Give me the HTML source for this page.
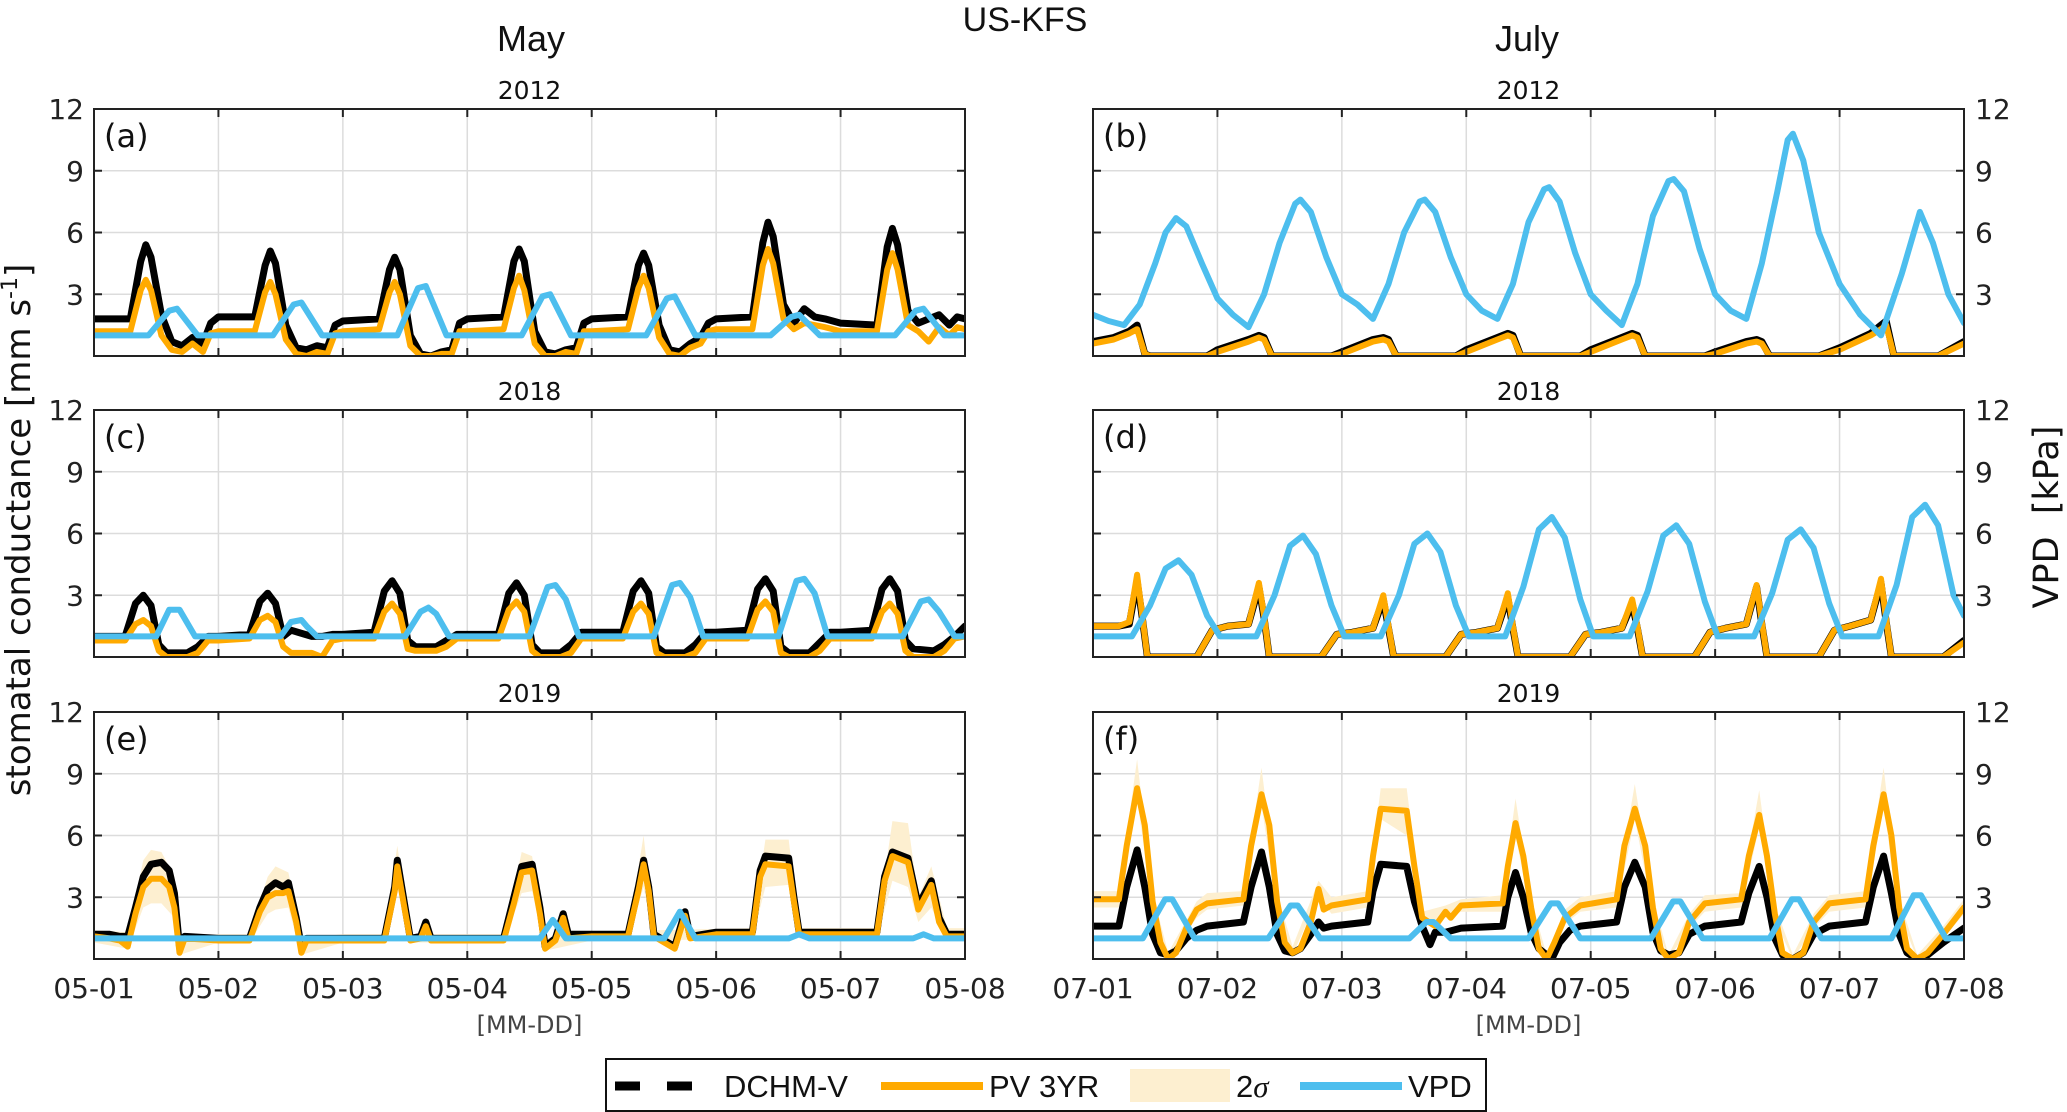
<!DOCTYPE html>
<html><head><meta charset="utf-8">
<style>
html,body{margin:0;padding:0;background:#fff;}
svg{display:block;font-family:"DejaVu Sans","Liberation Sans",sans-serif;}
</style></head>
<body>
<svg id="fig" width="2067" height="1112" viewBox="0 0 2067 1112" xmlns="http://www.w3.org/2000/svg">
<text x="1025" y="31" font-size="34" font-family="Liberation Sans, sans-serif" text-anchor="middle" fill="#111">US-KFS</text>
<text x="531" y="51" font-size="36" font-family="Liberation Sans, sans-serif" text-anchor="middle" fill="#111">May</text>
<text x="1527" y="51" font-size="36" font-family="Liberation Sans, sans-serif" text-anchor="middle" fill="#111">July</text>
<text transform="translate(30,530) rotate(-90)" font-size="34" text-anchor="middle" fill="#111">stomatal conductance [mm s<tspan font-size="22" dy="-13">-1</tspan><tspan dy="13">]</tspan></text>
<text transform="translate(2058,517) rotate(-90)" font-size="35" text-anchor="middle" fill="#111" xml:space="preserve">VPD  [kPa]</text>
<g id="panels"></g>
<g>
<rect x="606" y="1059" width="880" height="52" fill="#fff" stroke="#111" stroke-width="2"/>
<line x1="615" y1="1086" x2="692" y2="1086" stroke="#000" stroke-width="9" stroke-dasharray="25,27"/>
<text x="724" y="1097" font-size="31" font-family="Liberation Sans, sans-serif" fill="#111">DCHM-V</text>
<line x1="881" y1="1086" x2="983" y2="1086" stroke="#FFAA00" stroke-width="8"/>
<text x="989" y="1097" font-size="31" font-family="Liberation Sans, sans-serif" fill="#111">PV 3YR</text>
<rect x="1130" y="1069" width="100" height="33" fill="#FDEFD0"/>
<text x="1236" y="1097" font-size="31" font-family="Liberation Sans, sans-serif" fill="#111">2<tspan font-family="Liberation Serif,serif" font-style="italic">σ</tspan></text>
<line x1="1300" y1="1086" x2="1402" y2="1086" stroke="#4DBEEE" stroke-width="8"/>
<text x="1408" y="1097" font-size="31" font-family="Liberation Sans, sans-serif" fill="#111">VPD</text>
</g>
</svg>
<script>
// ---- data (time in hours since start of week, values in mm s-1 / kPa) ----
const yTicks = [3, 6, 9, 12];
const mayLabels = ["05-01","05-02","05-03","05-04","05-05","05-06","05-07","05-08"];
const julLabels = ["07-01","07-02","07-03","07-04","07-05","07-06","07-07","07-08"];

const a_dchm = [[0,1.8],[7,1.8],[9,4.6],[10,5.4],[11,4.8],[13,2.0],[15,0.7],[17,0.5],[19,0.9],[21,0.6],[22.5,1.6],
[24,1.9],[31,1.9],[33,4.4],[34,5.1],[35,4.5],[37,1.5],[39,0.4],[41,0.3],[43,0.5],[45,0.4],[46.5,1.5],
[48,1.7],[55,1.8],[57,4.2],[58,4.8],[59,4.2],[61,1.0],[63,0.1],[65,0.0],[67,0.2],[69,0.3],[70.5,1.6],
[72,1.8],[79,1.9],[81,4.6],[82,5.2],[83,4.6],[85,1.2],[87,0.2],[89,0.1],[91,0.3],[93,0.4],[94.5,1.6],
[96,1.8],[103,1.9],[105,4.4],[106,5.0],[107,4.4],[109,1.5],[111,0.3],[113,0.2],[115,0.6],[117,0.9],[118.5,1.6],
[120,1.8],[127,1.9],[129,5.5],[130,6.5],[131,5.8],[133,2.5],[135,1.6],[137,2.3],[139,1.9],[141,1.8],[142.5,1.7],
[144,1.6],[151,1.5],[153,5.3],[154,6.2],[155,5.4],[157,2.2],[159,1.6],[161,1.8],[163,2.0],[165,1.5],[166.5,1.9],[168,1.8]];
const a_pv = [[0,1.2],[7,1.2],[9,3.2],[10,3.7],[11,3.2],[13,1.0],[15,0.3],[17,0.2],[19,0.6],[21,0.2],[22.5,1.1],
[24,1.2],[31,1.2],[33,3.1],[34,3.6],[35,3.0],[37,0.8],[39,0.1],[41,0.0],[43,0.2],[45,0.1],[46.5,1.1],
[48,1.2],[55,1.3],[57,3.1],[58,3.6],[59,3.0],[61,0.5],[63,0.0],[65,0.0],[67,0.1],[69,0.1],[70.5,1.2],
[72,1.2],[79,1.3],[81,3.3],[82,3.9],[83,3.2],[85,0.6],[87,0.0],[89,0.0],[91,0.2],[93,0.1],[94.5,1.2],
[96,1.2],[103,1.3],[105,3.3],[106,3.9],[107,3.3],[109,0.9],[111,0.1],[113,0.0],[115,0.4],[117,0.6],[118.5,1.2],
[120,1.3],[127,1.3],[129,4.4],[130,5.2],[131,4.5],[133,1.8],[135,1.3],[137,1.6],[139,1.5],[141,1.4],[142.5,1.3],
[144,1.2],[151,1.2],[153,4.2],[154,5.0],[155,4.2],[157,1.5],[159,1.2],[161,0.7],[163,1.4],[165,1.0],[166.5,1.4],[168,1.3]];
const a_vpd = [[0,1.0],[10.5,1.0],[14.5,2.2],[16,2.3],[20,1.0],
[34.5,1.0],[38.5,2.5],[40,2.6],[44,1.0],[58.5,1.0],[62.5,3.3],[64,3.4],[68,1.0],
[82.5,1.0],[86.5,2.9],[88,3.0],[92,1.0],[106.5,1.0],[110.5,2.8],[112,2.9],[116,1.0],
[130.5,1.0],[134.5,1.9],[136,2.0],[140,1.0],[154.5,1.0],[158.5,2.2],[160,2.3],[164,1.0],[168,1.0]];

const b_dchm = [[0,0.7],[4,0.9],[7,1.2],[8.5,1.5],[10,0.1],[11,0],[22,0],
[24,0.3],[30,0.8],[32,1.0],[33,0.9],[34.5,0.0],[46,0],[48,0.2],[54,0.8],[56,0.9],[57,0.8],[58.5,0],[70,0],
[72,0.3],[78,0.9],[80,1.1],[81,1.0],[82.5,0],[94,0],[96,0.3],[102,0.9],[104,1.1],[105,1.0],[106.5,0],[118,0],
[120,0.2],[126,0.7],[128,0.8],[129,0.7],[130.5,0],[140,0],[144,0.4],[150,1.1],[152,1.5],[153,1.7],[154.5,0],[163,0],[168,0.7]];
const b_pv = [[0,0.6],[4,0.8],[7,1.1],[8.5,1.3],[10,0.1],[11,0],[22,0],
[24,0.2],[30,0.7],[32,0.9],[33,0.8],[34.5,0.0],[46,0],[48,0.1],[54,0.7],[56,0.8],[57,0.7],[58.5,0],[70,0],
[72,0.2],[78,0.8],[80,1.0],[81,0.9],[82.5,0],[94,0],[96,0.2],[102,0.8],[104,1.0],[105,0.9],[106.5,0],[118,0],
[120,0.1],[126,0.6],[128,0.7],[129,0.6],[130.5,0],[140,0],[144,0.3],[150,1.0],[152,1.3],[153,1.5],[154.5,0],[163,0],[168,0.6]];
const b_vpd = [[0,2.0],[3,1.7],[6,1.5],[9,2.5],[12,4.5],[14,6.0],[16,6.7],[18,6.3],[21,4.5],[24,2.8],[27,2.0],[30,1.4],
[33,3.0],[36,5.5],[39,7.4],[40,7.6],[42,7.0],[45,4.8],[48,3.0],[51,2.5],[54,1.8],
[57,3.5],[60,6.0],[63,7.5],[64,7.6],[66,7.0],[69,4.8],[72,3.0],[75,2.2],[78,1.8],
[81,3.5],[84,6.5],[87,8.1],[88,8.2],[90,7.5],[93,5.0],[96,3.0],[99,2.2],[102,1.5],
[105,3.5],[108,6.8],[111,8.5],[112,8.6],[114,8.0],[117,5.2],[120,3.0],[123,2.2],[126,1.8],
[129,4.5],[132,8.0],[134,10.5],[135,10.8],[137,9.5],[140,6.0],[144,3.5],[148,2.0],[152,1.0],
[156,4.0],[159.5,7.0],[162,5.5],[165,3.0],[168,1.6]];

const c_dchm = [[0,1.0],[6,1.0],[8,2.6],[9.5,3.0],[11,2.5],[12.5,0.6],[14,0.2],[18,0.2],[20,0.5],[22,1.0],
[24,1.0],[30,1.1],[32,2.7],[33.5,3.1],[35,2.6],[36.5,1.0],[38,1.3],[42,1.0],[44,1.0],[46,1.1],
[48,1.1],[54,1.2],[56,3.2],[57.5,3.7],[59,3.1],[60.5,0.8],[62,0.5],[66,0.5],[68,0.8],[70,1.1],
[72,1.1],[78,1.1],[80,3.1],[81.5,3.6],[83,3.0],[84.5,0.6],[86,0.2],[90,0.2],[92,0.6],[94,1.2],
[96,1.2],[102,1.2],[104,3.2],[105.5,3.7],[107,3.1],[108.5,0.5],[110,0.2],[114,0.2],[116,0.6],[118,1.2],
[120,1.2],[126,1.3],[128,3.3],[129.5,3.8],[131,3.2],[132.5,0.5],[134,0.2],[138,0.2],[140,0.7],[142,1.2],
[144,1.2],[150,1.3],[152,3.3],[153.5,3.8],[155,3.2],[156.5,0.8],[158,0.4],[162,0.3],[164,0.6],[166,1.0],[168,1.5]];
const c_pv = [[0,0.8],[6,0.8],[8,1.6],[9.5,1.8],[11,1.5],[12.5,0.3],[14,0.0],[18,0.0],[20,0.2],[22,0.8],
[24,0.8],[30,0.9],[32,1.8],[33.5,2.0],[35,1.7],[36.5,0.5],[38,0.2],[42,0.2],[44,0.0],[46,0.8],
[48,0.9],[54,0.9],[56,2.2],[57.5,2.6],[59,2.1],[60.5,0.4],[62,0.3],[66,0.3],[68,0.5],[70,0.9],
[72,0.9],[78,0.9],[80,2.3],[81.5,2.7],[83,2.2],[84.5,0.3],[86,0.0],[90,0.0],[92,0.2],[94,0.9],
[96,0.9],[102,0.9],[104,2.2],[105.5,2.6],[107,2.1],[108.5,0.2],[110,0.0],[114,0.0],[116,0.2],[118,0.9],
[120,0.9],[126,0.9],[128,2.3],[129.5,2.7],[131,2.2],[132.5,0.2],[134,0.0],[138,0.0],[140,0.3],[142,0.9],
[144,0.9],[150,0.9],[152,2.2],[153.5,2.6],[155,2.1],[156.5,0.3],[158,0.0],[162,0.0],[164,0.3],[166,0.9],[168,1.0]];
const c_vpd = [[0,1],[12,1],[14.5,2.3],[16.5,2.3],[19.5,1.0],
[36,1],[38,1.7],[40,1.8],[41,1.5],[43,1.0],[60,1],[63,2.2],[64.5,2.4],[66,2.1],[68.5,1.0],
[84,1],[87.5,3.4],[89,3.5],[91,2.8],[93.5,1.0],[108,1],[111.5,3.5],[113,3.6],[115,2.9],[117.5,1.0],
[132,1],[135.5,3.7],[137,3.8],[139,3.1],[141.5,1.0],[156,1],[159.5,2.7],[161,2.8],[163,2.2],[166,1.0],[168,1.0]];

const d_pv = [[0,1.5],[5,1.5],[7,1.7],[8.5,4.0],[9.5,2.0],[10.5,0.0],[20,0.0],[23,1.3],
[26,1.5],[30,1.6],[32,3.6],[33,2.0],[34,0.0],[44,0.0],[47,1.1],
[50,1.2],[54,1.4],[56,3.0],[57,1.5],[58,0.0],[68,0.0],[71,1.1],
[74,1.2],[78,1.4],[80,3.1],[81,1.5],[82,0.0],[92,0.0],[95,1.1],
[98,1.2],[102,1.4],[104,2.8],[105,1.5],[106,0.0],[116,0.0],[119,1.2],
[122,1.4],[126,1.6],[128,3.5],[129,1.7],[130,0.0],[140,0.0],[143,1.3],
[146,1.5],[150,1.8],[152,3.8],[153,1.8],[154,0.0],[164,0.0],[168,0.7]];
const d_dchm = [[0,1.5],[5,1.5],[7,1.6],[8.5,3.7],[9.5,1.9],[10.5,0.0],[20,0.0],[23,1.3],
[26,1.5],[30,1.6],[32,3.4],[33,1.9],[34,0.0],[44,0.0],[47,1.1],
[50,1.2],[54,1.4],[56,2.8],[57,1.4],[58,0.0],[68,0.0],[71,1.1],
[74,1.2],[78,1.4],[80,2.9],[81,1.4],[82,0.0],[92,0.0],[95,1.1],
[98,1.2],[102,1.4],[104,2.6],[105,1.4],[106,0.0],[116,0.0],[119,1.2],
[122,1.4],[126,1.6],[128,3.4],[129,1.6],[130,0.0],[140,0.0],[143,1.3],
[146,1.5],[150,1.8],[152,3.6],[153,1.7],[154,0.0],[164,0.0],[168,0.8]];
const d_vpd = [[0,1],[7.5,1],[11,2.5],[14,4.3],[16.5,4.7],[19,4.0],[22,2.0],[24.5,1.0],
[31.5,1],[35,3.0],[38,5.4],[40.5,5.9],[43,5.0],[46,2.5],[48.5,1.0],
[55.5,1],[59,3.0],[62,5.5],[64.5,6.0],[67,5.1],[70,2.5],[72.5,1.0],
[79.5,1],[83,3.4],[86,6.2],[88.5,6.8],[91,5.8],[94,2.8],[96.5,1.0],
[103.5,1],[107,3.2],[110,5.9],[112.5,6.4],[115,5.5],[118,2.7],[120.5,1.0],
[127.5,1],[131,3.1],[134,5.7],[136.5,6.2],[139,5.3],[142,2.6],[144.5,1.0],
[151.5,1],[155,3.5],[158,6.8],[160.5,7.4],[163,6.4],[166,3.0],[168,2.0]];

const e_dchm = [[0,1.2],[3,1.2],[5,1.1],[6.5,1.1],[8,2.5],[9.5,4.0],[11,4.6],[13,4.7],[14.5,4.3],[15.5,3.2],[16.5,0.6],[17.5,1.1],[24,1.0],[30,1.0],
[32,2.5],[33.5,3.4],[35,3.7],[36.5,3.5],[37.5,3.7],[39,2.0],[40,0.6],[41,1.0],[48,1.0],[56,1.0],
[58,3.5],[58.5,4.8],[60,2.5],[61,1.0],[63,1.1],[64,1.8],[65,1.0],[72,1.0],[79,1.0],
[81,3.0],[82.5,4.5],[84.5,4.6],[86,2.5],[87,0.6],[89,1.0],[90.5,2.2],[91.5,1.2],[96,1.2],[103,1.2],
[105,3.5],[106,4.8],[107,3.5],[108,1.2],[112,0.6],[114,2.3],[115,1.1],[120,1.3],[127,1.3],
[128.5,4.3],[129.5,5.0],[134,4.9],[135,3.0],[136,1.3],[144,1.3],[151,1.3],
[152.5,4.0],[154,5.2],[157,4.9],[159,2.6],[161.5,3.8],[163,2.0],[164.5,1.2],[168,1.2]];
const e_pv = [[0,1.1],[3,1.0],[5,0.9],[6.5,0.6],[8,2.2],[9.5,3.5],[11,3.9],[13,3.9],[14.5,3.5],[15.5,2.5],[16.5,0.3],[17.5,1.0],[24,0.9],[30,0.9],
[32,2.3],[33.5,3.0],[35,3.2],[36.5,3.2],[37.5,3.3],[39,1.8],[40,0.3],[41,0.9],[48,0.9],[56,0.9],
[58,3.3],[58.5,4.5],[60,2.3],[61,0.9],[63,1.0],[64,1.6],[65,0.9],[72,0.9],[79,0.9],
[81,2.7],[82.5,4.2],[84.5,4.3],[86,2.2],[87,0.5],[89,0.9],[90.5,2.0],[91.5,1.0],[96,1.1],[103,1.1],
[105,3.3],[106,4.6],[107,3.3],[108,1.1],[112,0.5],[114,2.1],[115,1.0],[120,1.2],[127,1.2],
[128.5,4.0],[129.5,4.6],[134,4.5],[135,2.8],[136,1.2],[144,1.2],[151,1.2],
[152.5,3.8],[154,5.0],[157,4.7],[159,2.4],[161.5,3.6],[163,1.8],[164.5,1.1],[168,1.1]];
const e_band = [[0,0.8,1.4],[6.5,0.5,1.3],[9.5,2.5,4.8],[11,2.7,5.3],[13,2.7,5.2],[15.5,2.0,4.0],[16.5,0.2,1.0],[24,0.8,1.2],[30,0.8,1.2],
[33.5,2.2,4.0],[35,2.4,4.5],[37.5,2.5,4.2],[40,0.2,1.0],[48,0.8,1.2],[56,0.8,1.2],[58.5,3.5,5.5],[61,0.8,1.2],[79,0.8,1.2],
[82.5,3.2,5.2],[84.5,3.3,5.0],[87,0.4,1.0],[96,0.9,1.3],[103,0.9,1.3],[106,3.5,6.0],[108,0.9,1.4],[127,1.0,1.5],
[129.5,3.5,5.8],[134,3.6,5.8],[136,1.0,1.5],[151,1.0,1.5],[154,3.8,6.7],[157,3.5,6.6],[159,1.8,3.0],[161.5,2.5,4.5],[164.5,0.9,1.5],[168,0.9,1.5]];
const e_vpd = [[0,1.0],[86,1.0],[88.5,1.9],[91,1.0],[110,1.0],[113,2.3],[116,1.0],[134,1.0],[136,1.2],[138,1.0],[158,1.0],[160,1.2],[162,1.0],[168,1.0]];

const f_pv = [[0,2.9],[5,2.9],[6.5,5.5],[8.5,8.3],[10,6.5],[11.5,2.8],[13,0.8],[14.5,0.0],[16,0.3],[18,1.5],[20,2.4],[22,2.7],
[29,2.9],[30.5,5.5],[32.5,8.0],[34,6.5],[35.5,2.8],[37,0.8],[38.5,0.3],[40,0.5],[42,1.8],[43.5,3.4],[44.5,2.4],[46,2.6],
[53,2.9],[54,5.0],[55.5,7.3],[60.5,7.2],[62,4.5],[63.5,2.0],[66,1.6],[68,2.3],[69,2.0],[71,2.6],
[79,2.7],[80,4.5],[81.5,6.6],[83,5.0],[84.5,2.5],[86,0.5],[87.5,0.0],[89,0.8],[91,2.0],[94,2.6],
[101,2.9],[102.5,5.5],[104.5,7.3],[106.5,5.5],[108,2.5],[109.5,0.5],[111,0.0],[113,0.3],[115,1.8],[118,2.7],
[125,2.9],[126.5,5.0],[128.5,7.0],[130,5.0],[131.5,2.2],[133,0.3],[135,0.0],[137,0.3],[139,1.8],[142,2.7],
[149,2.9],[150.5,5.5],[152.5,8.0],[154,6.0],[155.5,2.5],[157,0.5],[159,0.0],[161,0.3],[164,1.2],[168,2.5]];
const f_dchm = [[0,1.6],[5,1.6],[6.5,3.5],[8.5,5.3],[10,3.5],[11.5,1.2],[13,0.3],[14.5,0.2],[16,0.4],[18,1.0],[20,1.4],[22,1.6],
[29,1.8],[30.5,3.5],[32.5,5.2],[34,3.5],[35.5,1.2],[37,0.4],[38.5,0.3],[40,0.5],[42,1.2],[43.5,1.8],[44.5,1.5],[46,1.6],
[53,1.8],[54,3.3],[55.5,4.6],[60.5,4.5],[62,2.8],[63.5,1.6],[65,0.7],[66,1.3],[68,1.3],[71,1.5],
[79,1.6],[80,3.0],[81.5,4.2],[83,3.0],[84.5,1.3],[86,0.5],[88.5,0.0],[90,0.8],[92,1.4],[94,1.6],
[101,1.8],[102.5,3.5],[104.5,4.7],[106.5,3.5],[108,1.3],[109.5,0.4],[111,0.2],[113,0.3],[115,1.2],[118,1.6],
[125,1.8],[126.5,3.2],[128.5,4.5],[130,3.0],[131.5,1.0],[133,0.2],[135,0.0],[137,0.3],[139,1.2],[142,1.6],
[149,1.8],[150.5,3.5],[152.5,5.0],[154,3.2],[155.5,1.2],[157,0.3],[159,0.0],[161,0.2],[164,0.8],[168,1.5]];
const f_band = [[0,2.5,3.3],[5,2.5,3.3],[8.5,7.8,9.7],[11.5,2.4,3.2],[14.5,0,0.3],[20,2.0,2.8],[22,2.4,3.2],
[29,2.6,3.3],[32.5,7.5,9.3],[35.5,2.4,3.2],[38.5,0.2,0.6],[43.5,3.0,3.8],[46,2.2,3.0],
[53,2.5,3.3],[55.5,6.8,8.3],[60.5,6.0,8.3],[63.5,1.7,2.3],[68,2.0,2.6],[71,2.3,2.9],
[79,2.3,3.1],[81.5,6.0,7.8],[84.5,2.2,2.9],[87.5,0,0.2],[91,1.7,2.4],[94,2.3,3.0],
[101,2.5,3.3],[104.5,6.8,8.5],[108,2.2,2.9],[111,0,0.2],[115,1.5,2.2],[118,2.3,3.1],
[125,2.5,3.2],[128.5,6.4,8.2],[131.5,1.9,2.6],[135,0,0.2],[139,1.5,2.2],[142,2.3,3.1],
[149,2.5,3.3],[152.5,7.4,9.3],[155.5,2.2,2.9],[159,0,0.2],[164,1.0,1.6],[168,2.2,2.9]];
const f_vpd = [[0,1],[9.6,1],[13.9,2.9],[15.3,2.9],[19.6,1],[33.8,1],[38.1,2.6],[39.5,2.6],[43.8,1],
[61,1],[64.3,1.8],[65.7,1.8],[69,1],[84,1],[88.3,2.7],[89.7,2.7],[94,1],
[107.6,1],[111.9,2.8],[113.3,2.8],[117.6,1],[130.5,1],[134.8,2.9],[136.2,2.9],[140.5,1],
[154,1],[158.3,3.1],[159.7,3.1],[164.5,1],[168,1]];

// ---- rendering ----
const NS = "http://www.w3.org/2000/svg";
const W = 871, H = 247, TMAX = 168, YMAX = 12;
const panels = [
 {id:"a", year:"2012", x0:94,  y0:109, right:false, bottom:false, dchm:a_dchm, pv:a_pv, vpd:a_vpd, band:null},
 {id:"b", year:"2012", x0:1093,y0:109, right:true,  bottom:false, dchm:b_dchm, pv:b_pv, vpd:b_vpd, band:null},
 {id:"c", year:"2018", x0:94,  y0:410, right:false, bottom:false, dchm:c_dchm, pv:c_pv, vpd:c_vpd, band:null},
 {id:"d", year:"2018", x0:1093,y0:410, right:true,  bottom:false, dchm:d_dchm, pv:d_pv, vpd:d_vpd, band:null},
 {id:"e", year:"2019", x0:94,  y0:712, right:false, bottom:true,  dchm:e_dchm, pv:e_pv, vpd:e_vpd, band:e_band},
 {id:"f", year:"2019", x0:1093,y0:712, right:true,  bottom:true,  dchm:f_dchm, pv:f_pv, vpd:f_vpd, band:f_band}
];
function mk(tag, attrs, parent){
  const el = document.createElementNS(NS, tag);
  for (const k in attrs) el.setAttribute(k, attrs[k]);
  parent.appendChild(el);
  return el;
}
const root = document.getElementById("panels");
panels.forEach(function(p){
  const xs = function(t){ return p.x0 + t / TMAX * W; };
  const ys = function(v){ return p.y0 + H - v / YMAX * H; };
  const g = mk("g", {}, root);
  
  
  const clipId = "clip" + p.id;
  const cp = mk("clipPath", {id: clipId}, g);
  mk("rect", {x: p.x0, y: p.y0, width: W, height: H}, cp);
  const grid = mk("g", {stroke: "#dcdcdc", "stroke-width": 1.5}, g);
  
  
  for (let d = 1; d < 7; d++) mk("line", {x1: xs(d*24), x2: xs(d*24), y1: p.y0, y2: p.y0 + H}, grid);
  yTicks.forEach(function(v){ if (v < YMAX) mk("line", {x1: p.x0, x2: p.x0 + W, y1: ys(v), y2: ys(v)}, grid); });
  const data = mk("g", {"clip-path": "url(#" + clipId + ")", fill: "none", "stroke-linejoin": "round", "stroke-linecap": "round"}, g);
  if (p.band) {
    let dstr = "M" + p.band.map(function(r){ return xs(r[0]).toFixed(1) + "," + ys(r[2]).toFixed(1); }).join("L");
    dstr += "L" + p.band.slice().reverse().map(function(r){ return xs(r[0]).toFixed(1) + "," + ys(r[1]).toFixed(1); }).join("L") + "Z";
    const band = mk("path", {d: dstr, fill: "#FDEFD0", stroke: "none"}, data);
    
    
  }
  const line = function(arr){ return "M" + arr.map(function(r){ return xs(r[0]).toFixed(1) + "," + ys(r[1]).toFixed(1); }).join("L"); };
  const l1 = mk("path", {d: line(p.dchm), stroke: "#000", "stroke-width": 7}, data);
  
  
  const l2 = mk("path", {d: line(p.pv), stroke: "#FFAA00", "stroke-width": 6}, data);
  
  
  const l3 = mk("path", {d: line(p.vpd), stroke: "#4DBEEE", "stroke-width": 6}, data);
  
  
  const ax = mk("g", {stroke: "#222", "stroke-width": 2, fill: "none"}, g);
  
  
  mk("rect", {x: p.x0, y: p.y0, width: W, height: H}, ax);
  for (let d = 1; d < 7; d++) {
    mk("line", {x1: xs(d*24), x2: xs(d*24), y1: p.y0, y2: p.y0 + 8}, ax);
    mk("line", {x1: xs(d*24), x2: xs(d*24), y1: p.y0 + H, y2: p.y0 + H - 8}, ax);
  }
  yTicks.forEach(function(v){
    mk("line", {x1: p.x0, x2: p.x0 + 8, y1: ys(v), y2: ys(v)}, ax);
    mk("line", {x1: p.x0 + W, x2: p.x0 + W - 8, y1: ys(v), y2: ys(v)}, ax);
  });
  yTicks.forEach(function(v){
    const t = mk("text", {x: p.right ? p.x0 + W + 11 : p.x0 - 10, y: ys(v) + 10, "font-size": 28, fill: "#222", "text-anchor": p.right ? "start" : "end"}, g);
    t.textContent = v;
    
    
  });
  const yl = mk("text", {x: p.x0 + W/2, y: p.y0 - 10, "font-size": 25, fill: "#111", "text-anchor": "middle"}, g);
  yl.textContent = p.year;
  
  
  const lt = mk("text", {x: p.x0 + 10, y: p.y0 + 38, "font-size": 32, fill: "#111"}, g);
  lt.textContent = "(" + p.id + ")";
  
  
  if (p.bottom) {
    const labs = p.right ? julLabels : mayLabels;
    labs.forEach(function(s, i){
      const t = mk("text", {x: xs(i*24), y: p.y0 + H + 39, "font-size": 28, fill: "#222", "text-anchor": "middle"}, g);
      t.textContent = s;
      
      
    });
    const xt = mk("text", {x: p.x0 + W/2, y: p.y0 + H + 74, "font-size": 24, fill: "#444", "text-anchor": "middle"}, g);
    xt.textContent = "[MM-DD]";
    
    
  }
});
</script>
</body></html>
